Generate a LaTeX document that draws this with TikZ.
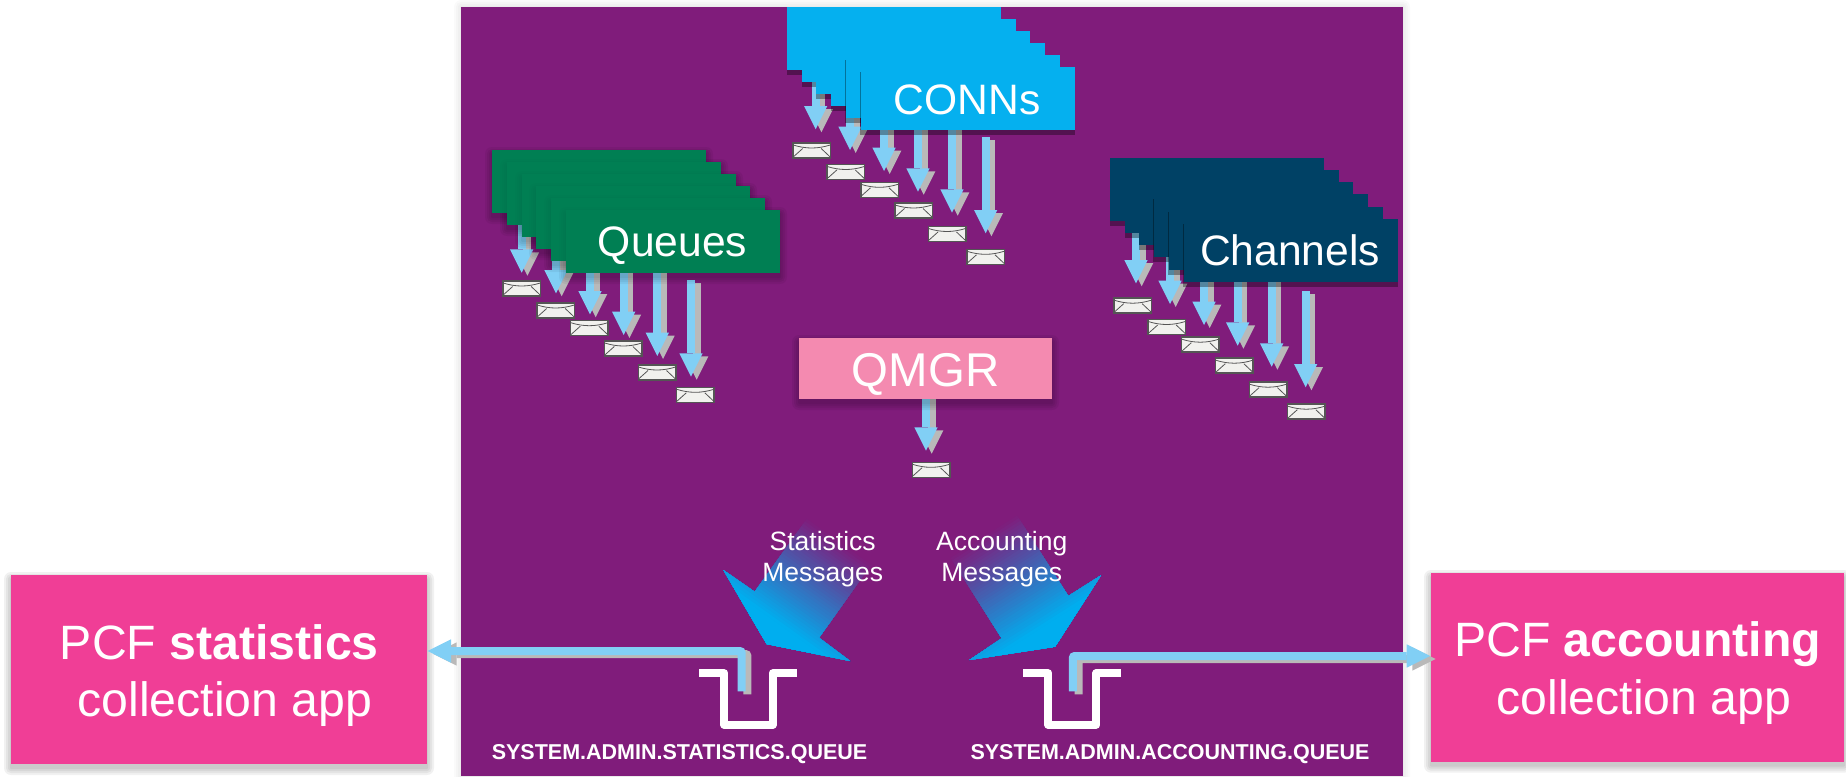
\documentclass[tikz,border=0pt]{standalone}
\usepackage{fontspec}
\setmainfont{Liberation Sans}
\usetikzlibrary{arrows.meta,shadows}
\definecolor{panel}{HTML}{801C7B}
\definecolor{gcyan}{HTML}{00AEEF}
\definecolor{cgreen}{HTML}{007F53}
\definecolor{cnavy}{HTML}{004165}
\definecolor{cpink}{HTML}{F48AB0}
\definecolor{pcf}{HTML}{F03E96}
\definecolor{flowb}{HTML}{81CFF5}
\definecolor{flowg}{HTML}{B9B9B9}
\definecolor{envb}{HTML}{555555}
\definecolor{envf}{HTML}{F1F1EE}
\tikzset{
  card/.style={anchor=north west,minimum width=214pt,minimum height=63pt,inner sep=0pt,outer sep=0pt},
  hardcard/.style={card,drop shadow={shadow xshift=0pt,shadow yshift=-5pt,shadow scale=1.003,fill=black,opacity=.35}},
  panelbox/.style={anchor=north west,fill=panel,inner sep=0pt,outer sep=0pt,minimum width=942pt,minimum height=769pt},
  pcfbox/.style={anchor=north west,fill=pcf,inner sep=0pt,outer sep=0pt},
  qmgrbox/.style={anchor=north west,fill=cpink,inner sep=0pt,outer sep=0pt,minimum width=253pt,minimum height=61pt},
  flowtip/.style={-{Triangle[length=23.3pt,width=23.3pt,line width=0pt]}},
  flowblue/.style={draw=flowb,line width=8pt,flowtip},
  flowgray/.style={draw=flowg,line width=8pt,flowtip},
  envbox/.style={draw=envb,fill=envf,line width=1.5pt,minimum width=37.5pt,minimum height=15pt,inner sep=0pt,outer sep=0pt},
  envline/.style={draw=envb,line width=.8pt},
  tray/.style={draw=white,line width=8pt,line join=round},
  lbl/.style={anchor=base,text=white,inner sep=0pt,outer sep=0pt},
  big/.style={lbl,font=\fontsize{42.6}{50}\selectfont},
  qmgrfont/.style={lbl,font=\fontsize{47.4}{56}\selectfont},
  pcffont/.style={lbl,font=\fontsize{48.2}{56}\selectfont},
  small26/.style={lbl,font=\fontsize{26.5}{32}\selectfont},
  qname/.style={lbl,font=\bfseries\fontsize{21.5}{26}\selectfont},
}
\newcommand\softshop[5]{\foreach \r in {7,5,3,1}{\fill[black,opacity=#5,rounded corners=\r pt] ({#1-\r},{#2+4-\r}) rectangle ({#3+\r},{#4+4+\r});}}
\newcommand\softsh[4]{\softshop{#1}{#2}{#3}{#4}{.055}}
\newcommand\flow[2]{%
  \draw[flowgray] ([shift={(5.7,3)}]#1) -- ([shift={(5.7,3)}]#2);
  \draw[flowblue] (#1) -- (#2);}
\newcommand\envelope[3]{%
  \node[envbox] (#1) at (#2,#3) {};
  \draw[envline] ([shift={(-18.5,-5.5)}]#1.center) .. controls ([shift={(-6,-1.5)}]#1.center) and ([shift={(6,-1.5)}]#1.center) .. ([shift={(18.5,-5.5)}]#1.center);
  \draw[envline] ([shift={(-18.5,6.5)}]#1.center) -- ([shift={(-9,-2)}]#1.center);
  \draw[envline] ([shift={(18.5,6.5)}]#1.center) -- ([shift={(9.5,-2)}]#1.center);}
% list entries: index/arrow x/start y/tip y/envelope x/envelope y
\newcommand\flowset[2]{%
  \foreach \n/\tx/\sy/\ty/\ex/\ey in {#2}{%
    \coordinate (#1s\n) at (\tx,\sy);
    \coordinate (#1t\n) at (\tx,\ty);
    \flow{#1s\n}{#1t\n}
    \envelope{#1e\n}{\ex}{\ey}
  }}
% gradient arrow: tip x,y; axis ux,uy; length; polygon path
\newcommand\gradarrow[6]{%
  \begin{scope}
    \clip #6;
    \foreach \t in {0,3,...,132}{%
      \pgfmathsetmacro\tt{#5-\t}
      \pgfmathtruncatemacro\p{max(0,min(100,100*\t/(#5-25)))}
      \fill[gcyan!\p!panel]
        ({#1+\tt*#3+170*(-#4)},{#2+\tt*#4+170*(#3)}) --
        ({#1+\tt*#3-170*(-#4)},{#2+\tt*#4-170*(#3)}) --
        ({#1-10*#3-170*(-#4)},{#2-10*#4-170*(#3)}) --
        ({#1-10*#3+170*(-#4)},{#2-10*#4+170*(#3)}) -- cycle;
    }
  \end{scope}}
\begin{document}
\begin{tikzpicture}[x=1pt,y=-1pt]
\useasboundingbox (0,0) rectangle (1846,776);
% panel
\begin{scope}
\clip (0,0) rectangle (1846,776);
\softshop{461}{3}{1403}{790}{.02}
\end{scope}
\node[panelbox] (panel) at (461,7) {};
% flows beneath the cards
\flowset{c}{1/815.7/78/129.3/811.7/150.5,2/850/78/150/845.8/172,3/884/78/171/879.5/189.8,4/918/78/191.7/913.5/210.5,5/952/78/212.7/947/234,6/985.7/137/233.3/985.5/256.8}
\flowset{q}{1/521.7/220/272.7/521.7/288.5,2/556/220/293.3/555.7/310.5,3/590/220/314.3/589.3/328.2,4/623.7/220/335/623.3/348.5,5/657.3/220/356/657/372.5,6/691/280/376.7/695.3/394.8}
\flowset{h}{1/1136/230/283.3/1132.7/305.7,2/1170/230/304/1166.7/327,3/1204/230/325/1200.3/344.7,4/1237.7/230/345.7/1234.3/365.7,5/1271.7/230/366.7/1268/389.7,6/1305.7/291/387.3/1306.3/411.7}
% CONNs cards
\foreach \n/\x/\y in {1/787/7,2/802/19,3/816/31,4/831/43,5/845.5/55,6/860.5/67}{
  \node[hardcard,fill=gcyan!98!white] (conn\n) at (\x,\y) {};
}
\node[big] (connsl) at (967,114.3) {CONNs};
% Queue cards
\foreach \x/\y in {492/150,507/162,522/174,536/186,551/198,566/210}{
  \softshop{\x}{\y}{\x+214}{\y+63}{.035}
}
\foreach \n/\x/\y in {1/492/150,2/507/162,3/522/174,4/536/186,5/551/198,6/566/210}{
  \softshop{\x}{\y}{\x+214}{\y+63}{.012}
  \node[card,fill=cgreen] (queue\n) at (\x,\y) {};
}
\node[big] (queuesl) at (672.5,256.7) {Queues};
% Channel cards
\foreach \n/\x/\y in {1/1110/158,2/1125/170,3/1139/182,4/1153.5/194,5/1168.5/207,6/1183.5/219}{
  \node[hardcard,fill=cnavy] (chan\n) at (\x,\y) {};
}
\node[big] (chanl) at (1290,265.7) {Channels};
% QMGR
\coordinate (qms) at (926,395);
\coordinate (qmt) at (926,450.7);
\flow{qms}{qmt}
\envelope{qme}{931}{469.8}
\softsh{799}{338}{1052}{399}
\node[qmgrbox] (qmgr) at (799,338) {};
\node[qmgrfont] (qmgrl) at (925.5,386.7) {QMGR};
% gradient arrows
\gradarrow{766.7}{644}{0.582}{-0.814}{128}{(723.3,570) -- (754.7,591.7) -- (808.3,516.7) -- (872.7,562.7) -- (819,637.7) -- (850,661) -- (766.7,644) -- cycle}
\gradarrow{1055}{646.7}{-0.536}{-0.844}{134}{(1101,575.3) -- (1068.3,596) -- (1015.3,512.7) -- (948.7,555) -- (1001.7,638.3) -- (969.3,660) -- (1055,646.7) -- cycle}
\node[small26] (st1) at (822.7,550) {Statistics};
\node[small26] (st2) at (822.7,581.7) {Messages};
\node[small26] (ac1) at (1001.7,550) {Accounting};
\node[small26] (ac2) at (1001.7,581.7) {Messages};
% trays
\coordinate (ta1) at (699.3,673.3);
\coordinate (ta2) at (724.3,673.3);
\coordinate (ta3) at (724.3,724.7);
\coordinate (ta4) at (772.7,724.7);
\coordinate (ta5) at (772.7,673.3);
\coordinate (ta6) at (797,673.3);
\draw[tray] (ta1) -- (ta2) -- (ta3) -- (ta4) -- (ta5) -- (ta6);
\coordinate (tb1) at (1023.3,673.3);
\coordinate (tb2) at (1048.3,673.3);
\coordinate (tb3) at (1048.3,724.7);
\coordinate (tb4) at (1096.3,724.7);
\coordinate (tb5) at (1096.3,673.3);
\coordinate (tb6) at (1121,673.3);
\draw[tray] (tb1) -- (tb2) -- (tb3) -- (tb4) -- (tb5) -- (tb6);
\node[qname] (qn1) at (679.5,759.3) {SYSTEM.ADMIN.STATISTICS.QUEUE};
\node[qname] (qn2) at (1170,759.3) {SYSTEM.ADMIN.ACCOUNTING.QUEUE};
% PCF boxes
\softsh{11}{575}{427}{764}
\node[pcfbox,minimum width=416pt,minimum height=189pt] (statbox) at (11,575) {};
\softsh{1431}{573}{1844}{761.7}
\node[pcfbox,minimum width=413pt,minimum height=188.7pt] (acctbox) at (1431,573) {};
\node[pcffont] (sb1) at (219.3,659) {PCF \textbf{statistics}};
\node[pcffont] (sb2) at (225,716) {collection app};
\node[pcffont] (ab1) at (1637.5,656.7) {PCF \textbf{accounting}};
\node[pcffont] (ab2) at (1644,714) {collection app};
% pipes
\coordinate (sp1) at (741.7,691.3);
\coordinate (sp2) at (741.7,651);
\coordinate (sp3) at (427.7,651);
\coordinate (ap1) at (1072.8,691.3);
\coordinate (ap2) at (1072.8,656);
\coordinate (ap3) at (1430,656);
\draw[flowgray,rounded corners=2pt] ([shift={(5.7,3)}]sp1) -- ([shift={(5.7,3)}]sp2) -- ([shift={(5.7,3)}]sp3);
\draw[flowblue,rounded corners=2pt] (sp1) -- (sp2) -- (sp3);
\draw[flowgray,rounded corners=2pt] ([shift={(5.7,3)}]ap1) -- ([shift={(5.7,3)}]ap2) -- ([shift={(5.7,3)}]ap3);
\draw[flowblue,rounded corners=2pt] (ap1) -- (ap2) -- (ap3);
\end{tikzpicture}
\end{document}
